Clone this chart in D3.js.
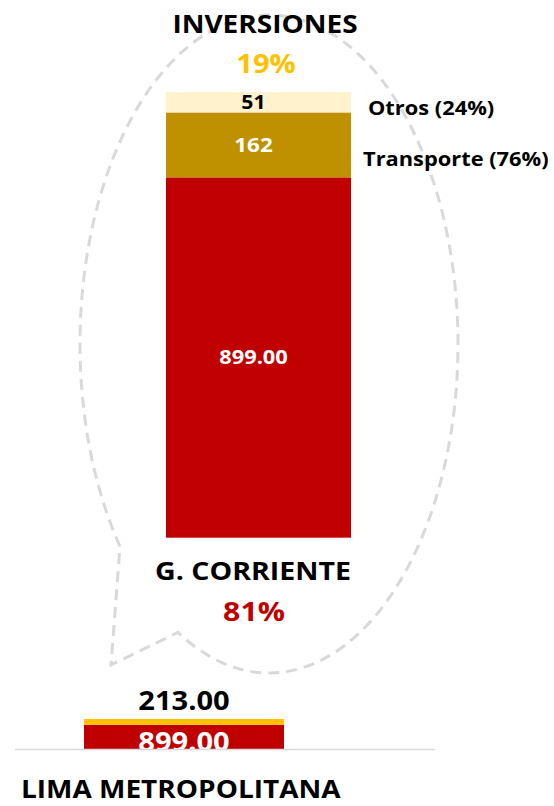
<!DOCTYPE html>
<html>
<head>
<meta charset="utf-8">
<script src="https://cdn.jsdelivr.net/npm/d3@7"></script>
<style>
  body { margin: 0; background: #fff; }
  text { font-family: "Open Sans", sans-serif; font-weight: bold; }
</style>
</head>
<body>
<svg></svg>
<script>
// Data
const segments = ["G. CORRIENTE", "Transporte", "Otros"];
const segmentValues = [899, 162, 51];
const segmentLabels = ["899.00", "162", "51"];
const segmentColors = ["#C00000", "#BF9000", "#FFF2CC"];
const segmentLabelColors = ["#fff", "#fff", "#000"];
const sideLabels = ["Transporte (76%)", "Otros (24%)"];

const groups = ["G. CORRIENTE", "INVERSIONES"];
const groupShares = ["81%", "19%"];
const groupColors = ["#C00000", "#FFC000"];

const totalCategory = ["LIMA METROPOLITANA"];
const totalValues = [899, 213];
const totalLabels = ["899.00", "213.00"];

const width = 554;
const height = 806;
const stretch = 1.12; // reference font is wider than Open Sans

const svg = d3.select("svg")
  .attr("width", width)
  .attr("height", height);

// helper: bold text widened horizontally
function label(parent, x, y, txt, size, anchor, color) {
  return parent.append("text")
    .attr("transform", `translate(${x},${y}) scale(${stretch},1)`)
    .attr("text-anchor", anchor)
    .attr("font-size", size)
    .attr("fill", color || "#000")
    .text(txt);
}

// --- callout bubble (decoration) ---
const cx = 269, cy = 344, rx = 189, ry = 329;
const angA = Math.acos((120 - cx) / rx), angB = Math.acos((178 - cx) / rx);
const pA = [120, cy + ry * Math.sin(angA)];
const pB = [178, cy + ry * Math.sin(angB)];
svg.append("path")
  .attr("d", `M${pA[0]},${pA[1]} A${rx},${ry} 0 1 1 ${pB[0]},${pB[1]} L111,665 Z`)
  .attr("fill", "none")
  .attr("stroke", "#D9D9D9")
  .attr("stroke-width", 3)
  .attr("stroke-dasharray", "11,7");

// --- detailed stacked bar ---
const total = d3.sum(segmentValues);
const x = d3.scaleBand().domain(["detalle"]).range([166, 351]).padding(0);
const y = d3.scaleLinear().domain([0, total]).range([537.7, 92]);

const stacked = [];
let acc = 0;
segmentValues.forEach((v, i) => {
  stacked.push({ name: segments[i], y0: acc, y1: acc + v, label: segmentLabels[i], i });
  acc += v;
});

svg.selectAll(".seg")
  .data(stacked)
  .enter()
  .append("rect")
  .attr("class", "seg")
  .attr("x", x("detalle"))
  .attr("width", x.bandwidth())
  .attr("y", d => y(d.y1))
  .attr("height", d => y(d.y0) - y(d.y1))
  .attr("fill", d => segmentColors[d.i]);

const segFont = [19.5, 20, 19];
stacked.forEach(d => {
  label(svg, x("detalle") + x.bandwidth() / 2 - 5, (y(d.y0) + y(d.y1)) / 2,
        d.label, segFont[d.i], "middle", segmentLabelColors[d.i])
    .attr("dy", "0.35em");
});

// side labels for investment parts
label(svg, 363, 166, sideLabels[0], 19.5, "start");
label(svg, 368, 115, sideLabels[1], 19.5, "start");

// group titles and shares
label(svg, 265, 33, groups[1], 25, "middle");
label(svg, 266, 73, groupShares[1], 26, "middle", groupColors[1]);
label(svg, 253, 580, groups[0], 25.5, "middle");
label(svg, 254, 621, groupShares[0], 27, "middle", groupColors[0]);

// --- total bar ---
const xt = d3.scaleBand().domain(totalCategory).range([84, 284]);
const yt = d3.scaleLinear().domain([0, d3.sum(totalValues)]).range([749, 719]);

svg.append("defs").append("clipPath")
  .attr("id", "plotClip")
  .append("rect")
  .attr("x", -100).attr("y", -200).attr("width", 400).attr("height", 200);

const tStack = [];
let tAcc = 0;
totalValues.forEach((v, i) => {
  tStack.push({ y0: tAcc, y1: tAcc + v, i });
  tAcc += v;
});

svg.selectAll(".tseg")
  .data(tStack)
  .enter()
  .append("rect")
  .attr("class", "tseg")
  .attr("x", xt(totalCategory[0]))
  .attr("width", xt.bandwidth())
  .attr("y", d => yt(d.y1))
  .attr("height", d => yt(d.y0) - yt(d.y1))
  .attr("fill", d => groupColors[d.i]);

// inner label is clipped at the baseline; clip-path lives in the label's local frame
svg.append("g")
  .attr("transform", `translate(${xt(totalCategory[0]) + xt.bandwidth() / 2},749)`)
  .append("g")
  .attr("clip-path", "url(#plotClip)")
  .append("text")
  .attr("transform", `translate(0,2) scale(${stretch},1)`)
  .attr("text-anchor", "middle")
  .attr("font-size", 26)
  .attr("fill", "#fff")
  .text(totalLabels[0]);

label(svg, xt(totalCategory[0]) + xt.bandwidth() / 2, 710, totalLabels[1], 26, "middle");

// baseline
svg.append("line")
  .attr("x1", 15).attr("x2", 435)
  .attr("y1", 749.5).attr("y2", 749.5)
  .attr("stroke", "#D9D9D9")
  .attr("stroke-width", 1.5);

label(svg, 21, 798, totalCategory[0], 25, "start");
</script>
</body>
</html>
